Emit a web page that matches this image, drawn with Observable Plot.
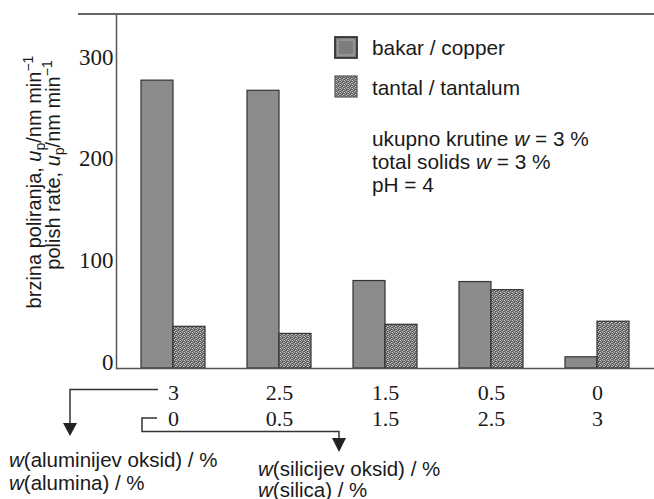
<!DOCTYPE html>
<html>
<head>
<meta charset="utf-8">
<script src="https://cdn.jsdelivr.net/npm/d3@7"></script>
<script src="https://cdn.jsdelivr.net/npm/@observablehq/plot@0.6"></script>
<style>
  html, body { margin: 0; padding: 0; background: #fff; }
  #chart svg { display: block; }
</style>
</head>
<body>
<div id="chart"></div>
<script>
// ---- data ----
const alumina = ["3", "2.5", "1.5", "0.5", "0"];      // w(alumina) / %
const silica  = ["0", "0.5", "1.5", "2.5", "3"];      // w(silica) / %
const copper   = [283, 273, 86, 85, 11];              // polish rate, nm/min
const tantalum = [41, 34, 43, 77, 46];                // polish rate, nm/min
const seriesNames = ["bakar / copper", "tantal / tantalum"];
const yTicks = [0, 100, 200, 300];
const noteLines = ["ukupno krutine", "total solids", "pH = 4"];

const copperRows = alumina.map((g, i) => ({group: g, metal: "copper", value: copper[i]}));
const tantalumRows = alumina.map((g, i) => ({group: g, metal: "tantalum", value: tantalum[i]}));

const SERIF = "'Liberation Serif', 'Times New Roman', serif";
const SANS = "'Liberation Sans', Arial, sans-serif";
const INK = "#1a1a1a";
const FS = 20.8;

function make(half) {
  return Plot.plot({
    width: 654,
    height: 499,
    marginTop: 14,
    marginLeft: 116,
    marginRight: 0,
    marginBottom: 131,
    style: {background: "#fff", color: INK, overflow: "visible"},
    x: {domain: alumina, paddingInner: 0.4, paddingOuter: 0.22, axis: null},
    y: {domain: [0, 348], axis: null},
    marks: [
      Plot.barY(copperRows, {x: "group", y: "value", fill: "#8b8b8b", stroke: "#333", strokeWidth: 1.2, insetRight: half}),
      Plot.barY(tantalumRows, {x: "group", y: "value", fill: "url(#stipple)", stroke: "#333", strokeWidth: 1.2, insetLeft: half}),
      Plot.ruleY([0], {stroke: "#555", strokeWidth: 1.6}),
      Plot.frame({anchor: "left", stroke: "#555", strokeWidth: 1.5}),
      Plot.axisY(yTicks, {tickSize: 0, tickPadding: 3, label: null, fontFamily: SERIF, fontSize: 23, dy: -6, fill: INK}),
      Plot.axisX({tickSize: 0, tickPadding: 16, label: null, fontFamily: SERIF, fontSize: 22, fill: INK}),
      Plot.axisX({tickSize: 0, tickPadding: 42, label: null, fontFamily: SERIF, fontSize: 22, fill: INK,
                  tickFormat: d => silica[alumina.indexOf(d)]})
    ]
  });
}

const probe = make(0);
const bw = probe.scale("x").bandwidth;
const chart = make(bw / 2);
document.getElementById("chart").appendChild(chart);

const svg = d3.select(chart);
const xs = chart.scale("x");
const ys = chart.scale("y");

// stipple pattern for tantalum
svg.insert("defs", ":first-child").html(`
  <pattern id="stipple" patternUnits="userSpaceOnUse" width="4" height="4">
    <rect width="4" height="4" fill="#5a5a5a"/>
    <rect x="0" y="0" width="1" height="1" fill="#d0d0d0"/>
    <rect x="1" y="1" width="1" height="1" fill="#bcbcbc"/>
    <rect x="3" y="2" width="1" height="1" fill="#d0d0d0"/>
    <rect x="2" y="3" width="1" height="1" fill="#b4b4b4"/>
    <rect x="2" y="0" width="1" height="1" fill="#959595"/>
    <rect x="0" y="2" width="1" height="1" fill="#a4a4a4"/>
    <rect x="3" y="0" width="1" height="1" fill="#828282"/>
    <rect x="1" y="3" width="1" height="1" fill="#828282"/>
  </pattern>`);

const g = svg.append("g").attr("fill", INK).attr("text-anchor", "start");

// top rule
const yTop = ys.apply(348);
g.append("line").attr("x1", 78).attr("x2", 654).attr("y1", yTop).attr("y2", yTop)
  .attr("stroke", "#666").attr("stroke-width", 2);

// y axis title (two lines, rotated)
function yTitle(cx, cy, prefix) {
  const t = g.append("text").attr("transform", `translate(${cx},${cy}) rotate(-90)`)
    .attr("text-anchor", "middle").attr("font-family", SANS).attr("font-size", 20);
  t.append("tspan").text(prefix);
  t.append("tspan").attr("font-style", "italic").text("u");
  t.append("tspan").attr("font-size", 14).attr("dy", 4).text("p");
  t.append("tspan").attr("dy", -4).text("/nm min");
  t.append("tspan").attr("font-size", 14).attr("dy", -8).text("−1");
}
yTitle(41, 182, "brzina poliranja, ");
yTitle(60, 165, "polish rate, ");

// legend
const lx = 335;
g.append("rect").attr("x", lx).attr("y", 37).attr("width", 22).attr("height", 21)
  .attr("fill", "#7d7d7d").attr("stroke", "#333").attr("stroke-width", 1.8);
g.append("rect").attr("x", lx + 3).attr("y", 40).attr("width", 16).attr("height", 15)
  .attr("fill", "none").attr("stroke", "#aaa").attr("stroke-width", 1);
g.append("rect").attr("x", lx).attr("y", 76).attr("width", 22).attr("height", 21)
  .attr("fill", "url(#stipple)").attr("stroke", "#555").attr("stroke-width", 1.2);
const legendText = (y, s) => g.append("text").attr("x", 372).attr("y", y)
  .attr("dominant-baseline", "central").attr("font-family", SANS).attr("font-size", FS).text(s);
legendText(47, seriesNames[0]);
legendText(87, seriesNames[1]);

// note
function noteW(y, prefix) {
  const t = g.append("text").attr("x", 372).attr("y", y).attr("dominant-baseline", "central")
    .attr("font-family", SANS).attr("font-size", FS);
  t.append("tspan").text(prefix + " ");
  t.append("tspan").attr("font-style", "italic").text("w");
  t.append("tspan").text(" = 3 %");
}
noteW(138, noteLines[0]);
noteW(161, noteLines[1]);
g.append("text").attr("x", 372).attr("y", 184).attr("dominant-baseline", "central")
  .attr("font-family", SANS).attr("font-size", FS).text(noteLines[2]);

// bottom connectors
const c0 = xs.apply(alumina[0]) + bw / 2;
const lineAttrs = sel => sel.attr("fill", "none").attr("stroke", "#333").attr("stroke-width", 1.5);
lineAttrs(g.append("polyline").attr("points", `${c0 - 15},389.5 70,389.5 70,425`));
g.append("path").attr("d", "M63,423 L77,423 L70,436 Z").attr("fill", "#222");
lineAttrs(g.append("polyline").attr("points", `${c0 - 16},418 142,418 142,431.5 339,431.5 339,440`));
g.append("path").attr("d", "M332,438 L346,438 L339,452 Z").attr("fill", "#222");

function wLabel(x, y, inner) {
  const t = g.append("text").attr("x", x).attr("y", y).attr("dominant-baseline", "central")
    .attr("font-family", SANS).attr("font-size", 20.5);
  t.append("tspan").attr("font-style", "italic").text("w");
  t.append("tspan").text(`(${inner}) / %`);
}
wLabel(9, 459, "aluminijev oksid");
wLabel(9, 482, "alumina");
wLabel(258, 468, "silicijev oksid");
wLabel(258, 489, "silica");
</script>
</body>
</html>
